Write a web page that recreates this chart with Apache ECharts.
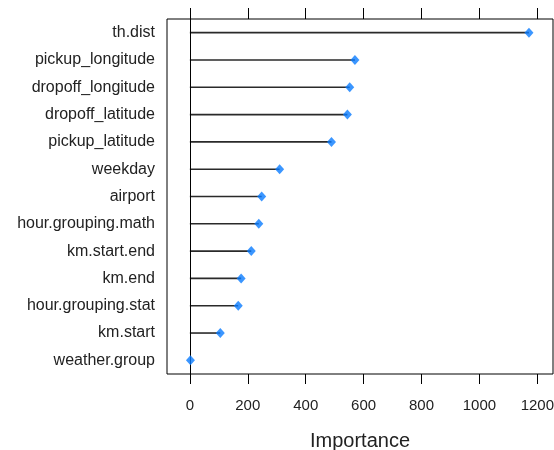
<!DOCTYPE html>
<html>
<head>
<meta charset="utf-8">
<script src="https://cdn.jsdelivr.net/npm/echarts@6/dist/echarts.min.js"></script>
<style>html,body{margin:0;padding:0;background:#fff}#c{width:554px;height:450px}</style>
</head>
<body>
<div id="c"></div>
<script>
const categories = ["th.dist","pickup_longitude","dropoff_longitude","dropoff_latitude","pickup_latitude","weekday","airport","hour.grouping.math","km.start.end","km.end","hour.grouping.stat","km.start","weather.group"];
const importance = [1171, 570, 552, 544, 489, 310, 248, 238, 212, 177, 167, 105, 2];
const tickValues = [0, 200, 400, 600, 800, 1000, 1200];
const axisTitle = "Importance";

const chart = echarts.init(document.getElementById('c'), null, {renderer: 'canvas'});
const font = 'Liberation Sans, Arial, sans-serif';
chart.setOption({
  animation: false,
  grid: {left: 167, right: 1, top: 19, bottom: 76, show: true, borderColor: '#000', borderWidth: 1, outerBoundsMode: 'none', containLabel: false},
  xAxis: [{
    type: 'value', position: 'bottom', min: -79, max: 1254,
    axisLine: {show: false},
    splitLine: {show: false},
    axisTick: {show: true, inside: false, length: 10, lineStyle: {color: '#000'}, customValues: tickValues},
    axisLabel: {show: true, margin: 24, fontSize: 15, color: '#222', fontFamily: font, customValues: tickValues, formatter: v => String(v)},
    name: axisTitle, nameLocation: 'middle', nameGap: 57,
    nameTextStyle: {fontSize: 20, color: '#222', fontFamily: font}
  }, {
    type: 'value', position: 'top', min: -79, max: 1254,
    axisLine: {show: false},
    splitLine: {show: false},
    axisTick: {show: true, inside: false, length: 11, lineStyle: {color: '#000'}, customValues: tickValues},
    axisLabel: {show: false}
  }],
  yAxis: {
    type: 'category', data: categories, inverse: true,
    axisLine: {show: false}, axisTick: {show: false}, splitLine: {show: false},
    axisLabel: {margin: 12, fontSize: 16, color: '#222', fontFamily: font}
  },
  series: [{
    type: 'bar', data: importance, barWidth: 1.6,
    itemStyle: {color: '#2a2a2a'}, silent: true,
    markLine: {
      silent: true, symbol: 'none', label: {show: false},
      lineStyle: {color: '#000', width: 1, type: 'solid'},
      data: [{xAxis: 0}]
    }
  }, {
    type: 'scatter', data: importance, symbol: 'diamond', symbolSize: [9, 10],
    itemStyle: {color: '#0a7cff'}, z: 5
  }]
});
</script>
</body>
</html>
